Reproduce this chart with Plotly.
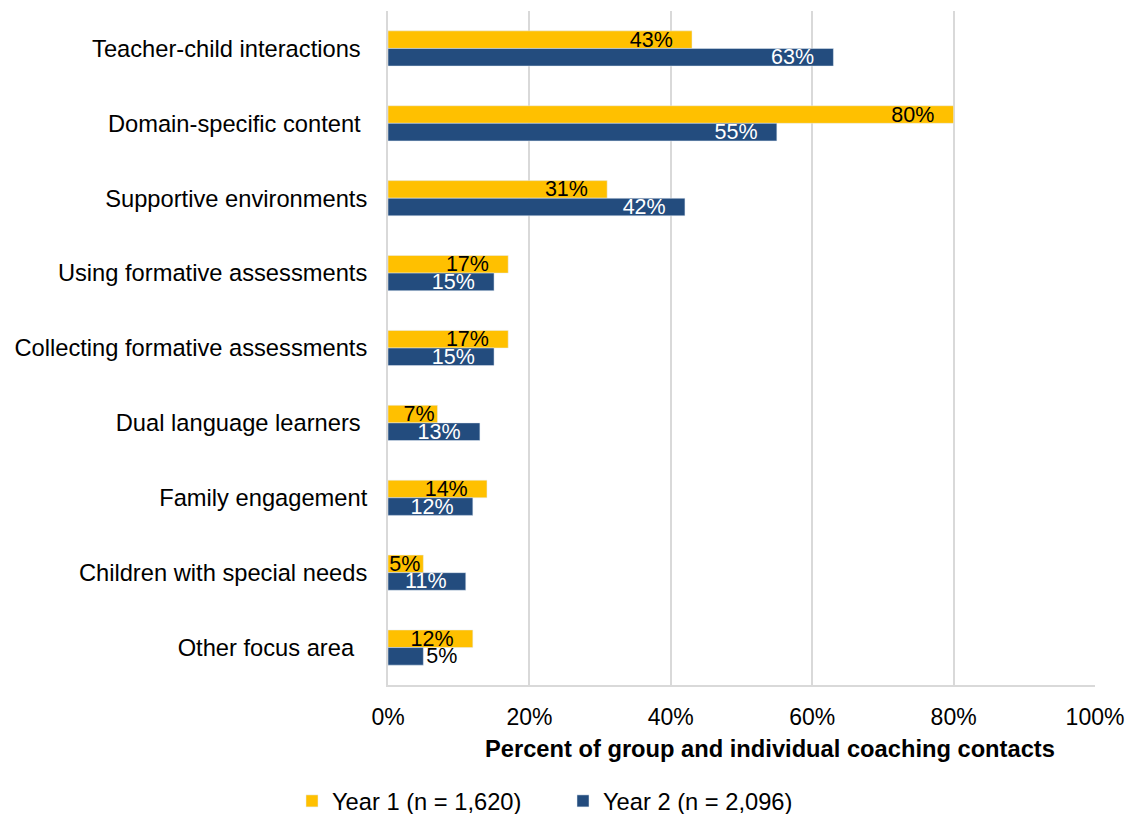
import plotly.graph_objects as go

# Coaching focus areas, listed top to bottom
categories = [
    "Teacher-child interactions\u00a0",
    "Domain-specific content\u00a0",
    "Supportive environments",
    "Using formative assessments",
    "Collecting formative assessments",
    "Dual language learners\u00a0",
    "Family engagement",
    "Children with special needs",
    "Other focus area\u00a0\u00a0",
]
year1 = [43, 80, 31, 17, 17, 7, 14, 5, 12]
year2 = [63, 55, 42, 15, 15, 13, 12, 11, 5]
x_ticks = [0, 20, 40, 60, 80, 100]
x_tick_labels = ["0%", "20%", "40%", "60%", "80%", "100%"]

GOLD = "#FFC000"
BLUE = "#234C7E"
GRID = "#D9D9D9"
FONT = "Liberation Sans, Arial, sans-serif"
END_PAD = "\u00a0\u00a0\u2009"  # breathing room between label and bar end


def pct(vals):
    # wide bars keep their label a little in from the end
    return [f"{v}%" + (END_PAD if v >= 10 else "") for v in vals]


def positions(vals, limit=6):
    return ["inside" if v >= limit else "outside" for v in vals]


fig = go.Figure()
fig.add_trace(go.Bar(
    y=categories, x=year1, orientation="h", name="Year 1 (n = 1,620)",
    marker=dict(color=GOLD),
    text=pct(year1), textposition="inside", insidetextanchor="end",
    textangle=0, constraintext="none",
    insidetextfont=dict(color="black", size=21.5, family=FONT),
    outsidetextfont=dict(color="black", size=21.5, family=FONT),
    cliponaxis=False,
))
fig.add_trace(go.Bar(
    y=categories, x=year2, orientation="h", name="Year 2 (n = 2,096)",
    marker=dict(color=BLUE),
    text=pct(year2), textposition=positions(year2), insidetextanchor="end",
    textangle=0, constraintext="none",
    insidetextfont=dict(color="white", size=21.5, family=FONT),
    outsidetextfont=dict(color="black", size=21.5, family=FONT),
    cliponaxis=False,
))

fig.update_layout(
    width=1127, height=814,
    margin=dict(l=388, r=32, t=11, b=129, autoexpand=False),
    paper_bgcolor="white", plot_bgcolor="white",
    barmode="group", bargap=0.53, bargroupgap=0,
    font=dict(family=FONT, size=23.7, color="black"),
    xaxis=dict(
        range=[0, 100], tickvals=x_ticks, ticktext=x_tick_labels,
        showgrid=True, gridcolor=GRID, gridwidth=2,
        showline=True, linecolor=GRID, linewidth=2,
        zeroline=False, ticks="", ticklabelstandoff=10,
        tickfont=dict(size=23, family=FONT, color="black"),
        fixedrange=True,
    ),
    yaxis=dict(
        autorange="reversed", showgrid=False,
        showline=True, linecolor=GRID, linewidth=2,
        ticks="", ticklabelstandoff=14,
        tickfont=dict(size=23.7, family=FONT, color="black"),
        fixedrange=True,
    ),
    legend=dict(
        orientation="h", xref="container", yref="container",
        x=292 / 1127, xanchor="left", y=1 - 801 / 814, yanchor="middle",
        font=dict(size=23.7, family=FONT, color="black"),
        entrywidth=226, traceorder="normal",
        itemclick=False, itemdoubleclick=False,
    ),
    annotations=[dict(
        text="<b>Percent of group and individual coaching contacts</b>",
        xref="paper", yref="paper", x=(770 - 388) / 707, y=-0.095,
        xanchor="center", yanchor="middle", showarrow=False,
        font=dict(size=23.7, family=FONT, color="black"),
    )],
)

fig.write_html("out.html")
